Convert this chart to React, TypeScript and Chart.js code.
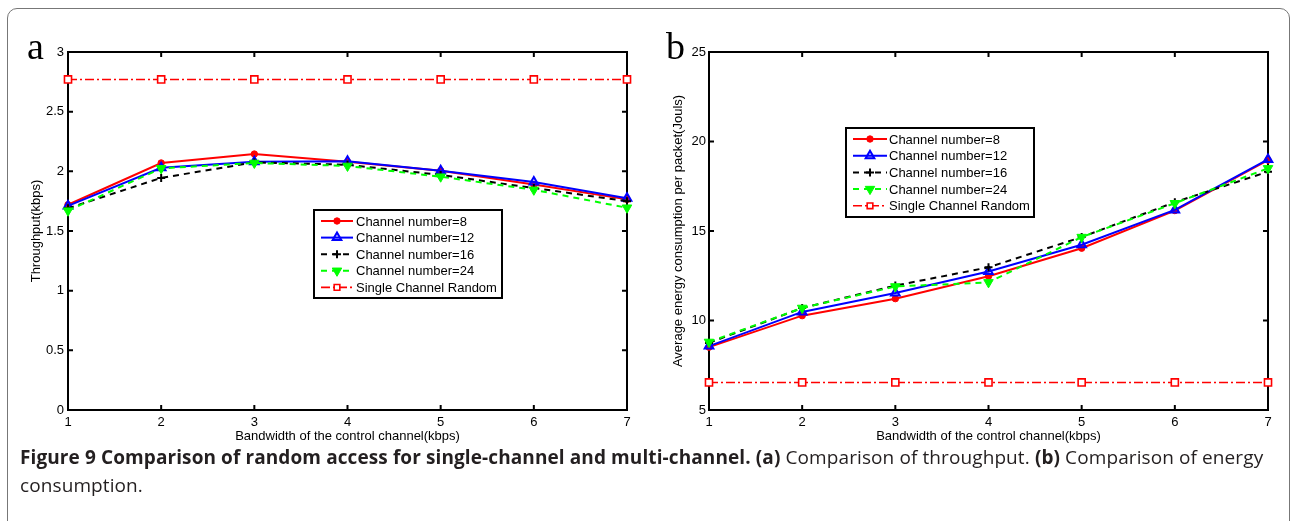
import React, { useEffect, useRef } from 'react';
import { Chart, registerables } from 'chart.js';
import { drawPoint } from 'chart.js/helpers';

Chart.register(...registerables);

// ---------- data ----------
const bandwidth = ['1', '2', '3', '4', '5', '6', '7'];
const seriesLabels = [
  'Channel number=8',
  'Channel number=12',
  'Channel number=16',
  'Channel number=24',
  'Single Channel Random',
];

const throughputCh8 = [1.72, 2.07, 2.145, 2.08, 2.005, 1.89, 1.765];
const throughputCh12 = [1.71, 2.03, 2.08, 2.085, 2.005, 1.91, 1.775];
const throughputCh16 = [1.69, 1.945, 2.075, 2.055, 1.97, 1.86, 1.75];
const throughputCh24 = [1.67, 2.025, 2.07, 2.045, 1.955, 1.845, 1.695];
const throughputSingle = [2.77, 2.77, 2.77, 2.77, 2.77, 2.77, 2.77];

const energyCh8 = [8.51, 10.27, 11.22, 12.47, 14.04, 16.14, 18.96];
const energyCh12 = [8.57, 10.48, 11.54, 12.74, 14.23, 16.18, 19.0];
const energyCh16 = [8.75, 10.7, 11.95, 12.97, 14.66, 16.61, 18.31];
const energyCh24 = [8.8, 10.7, 11.9, 12.13, 14.66, 16.55, 18.5];
const energySingle = [6.54, 6.54, 6.54, 6.54, 6.54, 6.54, 6.54];

// ---------- styles ----------
const FONT = '"Liberation Sans", Arial, Helvetica, sans-serif';

const seriesStyles: any[] = [
  {
    borderColor: '#ff0000', backgroundColor: '#ff0000', borderWidth: 2,
    pointStyle: 'circle', pointRadius: 3.2, pointBackgroundColor: '#ff0000',
    pointBorderColor: '#ff0000', pointBorderWidth: 1,
  },
  {
    borderColor: '#0000ff', backgroundColor: '#0000ff', borderWidth: 2,
    pointStyle: 'triangle', pointRadius: 5, pointBackgroundColor: 'rgba(0,0,255,0.15)',
    pointBorderColor: '#0000ff', pointBorderWidth: 2,
  },
  {
    borderColor: '#000000', backgroundColor: '#000000', borderWidth: 2, borderDash: [6, 5],
    pointStyle: 'cross', pointRadius: 4, pointBackgroundColor: '#000000',
    pointBorderColor: '#000000', pointBorderWidth: 2,
  },
  {
    borderColor: '#00ff00', backgroundColor: '#00ff00', borderWidth: 2, borderDash: [6, 5],
    pointStyle: 'triangle', pointRotation: 180, pointRadius: 5.5, pointBackgroundColor: '#00ff00',
    pointBorderColor: '#00ff00', pointBorderWidth: 1,
  },
  {
    borderColor: '#ff0000', backgroundColor: '#ffffff', borderWidth: 1.6, borderDash: [9, 3, 2, 3],
    pointStyle: 'rect', pointRadius: 5, pointBackgroundColor: '#ffffff',
    pointBorderColor: '#ff0000', pointBorderWidth: 1.6,
  },
];

function makeDatasets(values: number[][]) {
  return values.map((data, i) => ({
    label: seriesLabels[i],
    data,
    ...seriesStyles[i],
    fill: false,
    tension: 0,
    clip: false,
    order: values.length - i,
  }));
}

// ---------- plugins ----------
const matlabBox = {
  id: 'matlabBox',
  beforeDatasetsDraw(chart: any) {
    const { ctx, chartArea: a, scales } = chart;
    const x = scales.x;
    const y = scales.y;
    ctx.save();
    ctx.strokeStyle = '#000';
    ctx.lineWidth = 2;
    ctx.strokeRect(a.left, a.top, a.right - a.left, a.bottom - a.top);
    ctx.beginPath();
    x.ticks.forEach((_t: any, i: number) => {
      const px = x.getPixelForTick(i);
      ctx.moveTo(px, a.bottom); ctx.lineTo(px, a.bottom - 5);
      ctx.moveTo(px, a.top); ctx.lineTo(px, a.top + 5);
    });
    y.ticks.forEach((_t: any, i: number) => {
      const py = y.getPixelForTick(i);
      ctx.moveTo(a.left, py); ctx.lineTo(a.left + 5, py);
      ctx.moveTo(a.right, py); ctx.lineTo(a.right - 5, py);
    });
    ctx.stroke();
    ctx.restore();
  },
};

const matlabLegend = {
  id: 'matlabLegend',
  afterDraw(chart: any, _args: any, o: any) {
    if (!o || o.left === undefined) return;
    const { ctx } = chart;
    ctx.save();
    ctx.fillStyle = '#fff';
    ctx.fillRect(o.left, o.top, o.width, o.height);
    ctx.lineWidth = 2;
    ctx.strokeStyle = '#000';
    ctx.strokeRect(o.left, o.top, o.width, o.height);
    chart.data.datasets.forEach((ds: any, i: number) => {
      const yy = o.top + o.firstRow + i * o.rowGap;
      ctx.setLineDash(ds.borderDash || []);
      ctx.lineWidth = ds.borderWidth;
      ctx.strokeStyle = ds.borderColor;
      ctx.beginPath();
      ctx.moveTo(o.sampleStart, yy);
      ctx.lineTo(o.sampleEnd, yy);
      ctx.stroke();
      ctx.setLineDash([]);
      ctx.fillStyle = ds.pointBackgroundColor;
      ctx.strokeStyle = ds.pointBorderColor;
      ctx.lineWidth = ds.pointBorderWidth;
      drawPoint(ctx, {
        pointStyle: ds.pointStyle,
        rotation: ds.pointRotation || 0,
        radius: ds.pointStyle === 'rect' ? ds.pointRadius * 0.8 : ds.pointRadius,
        borderWidth: ds.pointBorderWidth,
      } as any, (o.sampleStart + o.sampleEnd) / 2, yy);
      ctx.fillStyle = '#000';
      ctx.font = `13px ${FONT}`;
      ctx.textBaseline = 'middle';
      ctx.textAlign = 'left';
      ctx.fillText(ds.label, o.textX, yy + 1);
    });
    ctx.restore();
  },
};

const panelLetter = {
  id: 'panelLetter',
  afterDraw(chart: any, _args: any, o: any) {
    if (!o || !o.text) return;
    const { ctx } = chart;
    ctx.save();
    ctx.fillStyle = '#000';
    ctx.font = `38px "Liberation Serif", "Times New Roman", serif`;
    ctx.textBaseline = 'alphabetic';
    ctx.textAlign = 'left';
    ctx.fillText(o.text, o.x, o.y);
    ctx.restore();
  },
};

interface PanelProps {
  values: number[][];
  yMin: number;
  yMax: number;
  yStep: number;
  yTitle: string;
  yAxisWidth: number;
  yTitlePad: number;
  yTickPad: number;
  padRight: number;
  legend: any;
  letter: any;
  width: number;
  height: number;
  left: number;
}

function Panel(p: PanelProps) {
  const ref = useRef<HTMLCanvasElement | null>(null);
  useEffect(() => {
    if (!ref.current) return;
    const chart = new Chart(ref.current, {
      type: 'line',
      data: { labels: bandwidth, datasets: makeDatasets(p.values) as any },
      options: {
        animation: false,
        responsive: false,
        maintainAspectRatio: false,
        layout: { padding: { left: 0, right: p.padRight, top: 52, bottom: 0 } },
        plugins: {
          legend: { display: false },
          tooltip: { enabled: false },
          matlabLegend: p.legend,
          panelLetter: p.letter,
        } as any,
        scales: {
          x: {
            type: 'category',
            offset: false,
            grid: { display: false, drawTicks: false },
            border: { display: false },
            ticks: { color: '#000', font: { size: 13, family: FONT }, padding: 5, maxRotation: 0, autoSkip: false },
            title: {
              display: true,
              text: 'Bandwidth of the control channel(kbps)',
              color: '#000',
              font: { size: 13, family: FONT },
              padding: { top: 0, bottom: 6 },
            },
            afterFit: (s: any) => { s.height = 40; },
          },
          y: {
            type: 'linear',
            min: p.yMin,
            max: p.yMax,
            grid: { display: false, drawTicks: false },
            border: { display: false },
            ticks: {
              stepSize: p.yStep,
              color: '#000',
              font: { size: 13, family: FONT },
              padding: p.yTickPad,
              callback: (v: any) => String(v),
            },
            title: {
              display: true,
              text: p.yTitle,
              color: '#000',
              font: { size: 13, family: FONT },
              padding: { top: p.yTitlePad, bottom: 0 },
            },
            afterFit: (s: any) => { s.width = p.yAxisWidth; },
          },
        },
      },
      plugins: [matlabBox, matlabLegend, panelLetter],
    });
    return () => chart.destroy();
  }, []);
  return (
    <canvas
      ref={ref}
      width={p.width}
      height={p.height}
      style={{ position: 'absolute', left: p.left, top: 0, width: p.width, height: p.height }}
    />
  );
}

export default function App() {
  return (
    <div style={{ position: 'absolute', left: 0, top: 0, width: 1292, height: 521, overflow: 'hidden', background: '#fff' }}>
      <div
        style={{
          position: 'absolute', left: 7, top: 8, width: 1283, height: 600,
          border: '1px solid #777', borderRadius: 10, boxSizing: 'border-box',
        }}
      />
      <Panel
        values={[throughputCh8, throughputCh12, throughputCh16, throughputCh24, throughputSingle]}
        yMin={0} yMax={3} yStep={0.5}
        yTitle="Throughput(kbps)"
        yAxisWidth={68} yTitlePad={29} yTickPad={4} padRight={33}
        legend={{ left: 314, top: 210, width: 188, height: 88, firstRow: 11, rowGap: 16.6, sampleStart: 321, sampleEnd: 353, textX: 356 }}
        letter={{ text: 'a', x: 27, y: 59 }}
        width={660} height={450} left={0}
      />
      <Panel
        values={[energyCh8, energyCh12, energyCh16, energyCh24, energySingle]}
        yMin={5} yMax={25} yStep={5}
        yTitle="Average energy consumption per packet(Jouls)"
        yAxisWidth={49} yTitlePad={11} yTickPad={3} padRight={24}
        legend={{ left: 186, top: 128, width: 188, height: 89, firstRow: 11, rowGap: 16.7, sampleStart: 193, sampleEnd: 227, textX: 229 }}
        letter={{ text: 'b', x: 6, y: 59 }}
        width={632} height={450} left={660}
      />
      <div
        style={{
          position: 'absolute', left: 20, top: 443, whiteSpace: 'nowrap',
          fontFamily: '"Open Sans", "Noto Sans", sans-serif', fontSize: 19, letterSpacing: '0.1px',
          lineHeight: '28px', color: '#231f20',
        }}
      >
        <b>Figure 9 Comparison of random access for single-channel and multi-channel.</b> <b>(a)</b> Comparison of throughput. <b>(b)</b> Comparison of energy
        <br />
        consumption.
      </div>
    </div>
  );
}
